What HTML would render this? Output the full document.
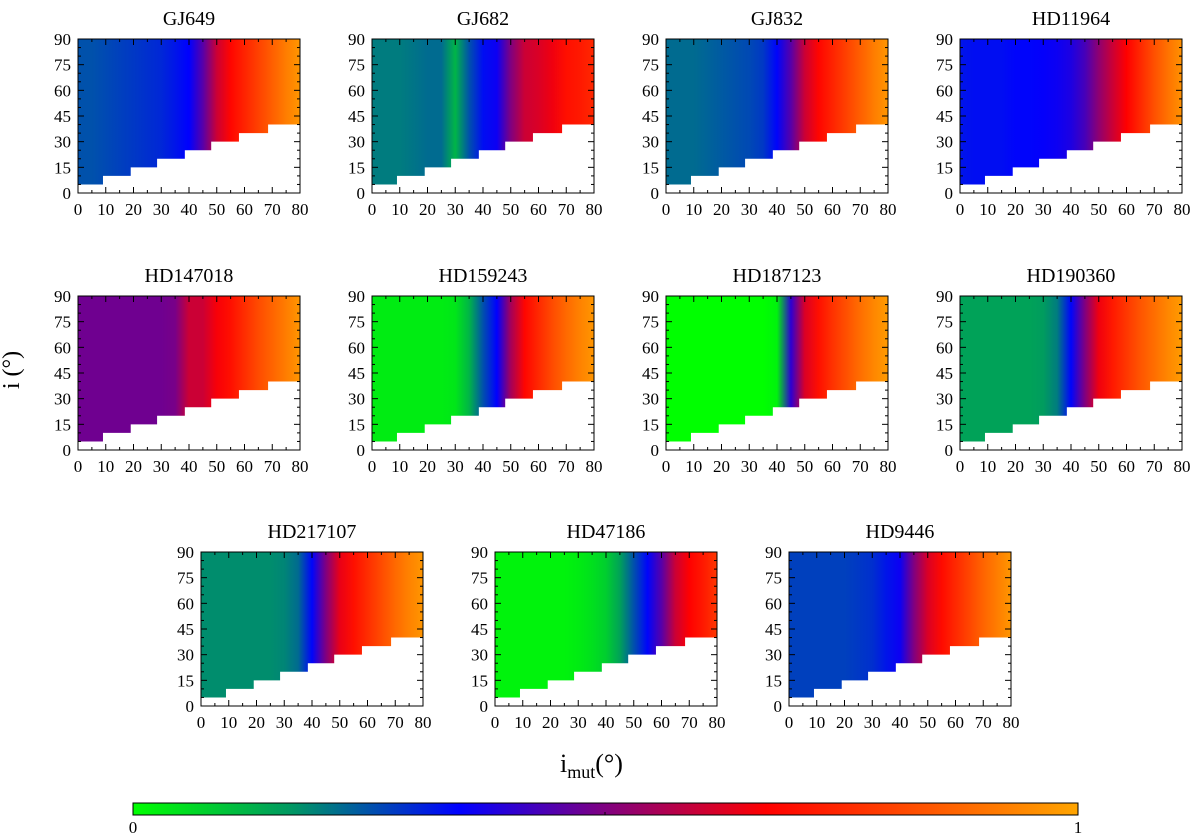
<!DOCTYPE html>
<html><head><meta charset="utf-8"><style>
body{margin:0;background:#fff;}
svg{display:block;font-family:"Liberation Serif",serif;}
</style></head><body>
<svg id="fig" width="1200" height="835" viewBox="0 0 1200 835">
<defs id="defs"></defs>
</svg>
<script>
const panelNames=["GJ649","GJ682","GJ832","HD11964","HD147018","HD159243","HD187123","HD190360","HD217107","HD47186","HD9446"];
const imutGrid=[0,5,10,15,20,25,30,35,40,45,50,55,60,65,70,75,80];
const vGJ649=[0.25,0.25,0.26,0.27,0.28,0.29,0.3,0.32,0.345,0.45,0.6,0.68,0.74,0.8,0.86,0.92,0.97];
const vGJ682=[0.2,0.2,0.2,0.21,0.22,0.22,0.12,0.25,0.33,0.36,0.5,0.6,0.62,0.65,0.7,0.72,0.75];
const vGJ832=[0.22,0.22,0.22,0.23,0.24,0.25,0.26,0.28,0.34,0.45,0.6,0.68,0.74,0.8,0.86,0.92,0.97];
const vHD11964=[0.32,0.33,0.33,0.33,0.34,0.34,0.35,0.36,0.38,0.43,0.52,0.6,0.67,0.75,0.83,0.9,0.96];
const vHD147018=[0.48,0.48,0.48,0.48,0.48,0.48,0.48,0.49,0.6,0.6,0.66,0.7,0.76,0.82,0.87,0.92,0.97];
const vHD159243=[0.03,0.03,0.03,0.03,0.03,0.03,0.04,0.12,0.25,0.345,0.55,0.68,0.75,0.82,0.88,0.93,0.97];
const vHD187123=[0,0,0,0,0,0,0,0,0.02,0.4,0.62,0.7,0.77,0.83,0.89,0.94,0.98];
const vHD190360=[0.15,0.15,0.15,0.15,0.15,0.15,0.16,0.2,0.34,0.5,0.65,0.72,0.78,0.84,0.89,0.94,0.98];
const vHD217107=[0.18,0.18,0.18,0.18,0.18,0.18,0.19,0.22,0.34,0.5,0.64,0.7,0.76,0.82,0.88,0.93,0.97];
const vHD47186=[0.02,0.02,0.02,0.02,0.02,0.02,0.03,0.05,0.08,0.15,0.25,0.34,0.45,0.6,0.67,0.72,0.78];
const vHD9446=[0.27,0.27,0.27,0.27,0.27,0.28,0.29,0.32,0.36,0.5,0.62,0.69,0.75,0.81,0.87,0.92,0.97];
const panelValues=[vGJ649,vGJ682,vGJ832,vHD11964,vHD147018,vHD159243,vHD187123,vHD190360,vHD217107,vHD47186,vHD9446];
const stepEdges=[0,9,19,28.5,38.5,48,58,68.5,80];
const stepFloor=[5,10,15,20,25,30,35,40];
const xTicks=[0,10,20,30,40,50,60,70,80];
const yTicks=[0,15,30,45,60,75,90];

const cmStops=[[0,[0,255,0]],[0.17,[0,150,100]],[0.345,[0,0,255]],[0.5,[128,0,128]],[0.67,[255,0,0]],[1,[255,165,0]]];
function cmap(v){
  v=Math.max(0,Math.min(1,v));
  for(let k=1;k<cmStops.length;k++){
    if(v<=cmStops[k][0]){
      const a=cmStops[k-1],b=cmStops[k];const t=(v-a[0])/(b[0]-a[0]);
      const c=a[1].map((x,j)=>Math.round(x+(b[1][j]-x)*t));
      return `rgb(${c[0]},${c[1]},${c[2]})`;
    }
  }
  return 'rgb(255,165,0)';
}
const NS="http://www.w3.org/2000/svg";
const svg=document.getElementById('fig'),defs=document.getElementById('defs');
function mk(tag,attrs,parent){const e=document.createElementNS(NS,tag);for(const k in attrs)e.setAttribute(k,attrs[k]);(parent||svg).appendChild(e);return e;}

const W=222,H=154;
const pos=[[78,39],[372,39],[666,39],[960,39],[78,296],[372,296],[666,296],[960,296],[201,552],[495,552],[789,552]];

panelNames.forEach((name,p)=>{
  const [L,T]=pos[p];
  const xs=v=>L+v/80*W, ys=v=>T+H-v/90*H;
  const g=mk('g',{});
  
  
  const gid='grad'+p;
  const lg=mk('linearGradient',{id:gid,gradientUnits:'userSpaceOnUse',x1:xs(0),y1:0,x2:xs(80),y2:0},defs);
  panelValues[p].forEach((v,k)=>{mk('stop',{offset:(imutGrid[k]/80).toFixed(4),'stop-color':cmap(v)},lg);});
  const hm=mk('rect',{x:L,y:T,width:W,height:H,fill:`url(#${gid})`},g);
  
  
  let d=`M${xs(0)},${ys(0)}`;
  stepFloor.forEach((f,k)=>{d+=` L${xs(stepEdges[k])},${ys(f)} L${xs(stepEdges[k+1])},${ys(f)}`;});
  d+=` L${xs(80)},${ys(0)} Z`;
  const wp=mk('path',{d:d,fill:'#fff'},g);
  
  
  mk('rect',{x:L,y:T,width:W,height:H,fill:'none',stroke:'#000','stroke-width':1},g);
  for(let v=0;v<=80;v+=5){const x=xs(v),len=v%10===0?6:3;
    mk('line',{x1:x,y1:T+H,x2:x,y2:T+H-len,stroke:'#000'},g);
    mk('line',{x1:x,y1:T,x2:x,y2:T+len,stroke:'#000'},g);}
  for(let v=0;v<=90;v+=5){const y=ys(v),len=v%15===0?6:3;
    mk('line',{x1:L,y1:y,x2:L+len,y2:y,stroke:'#000'},g);
    mk('line',{x1:L+W,y1:y,x2:L+W-len,y2:y,stroke:'#000'},g);}
  xTicks.forEach(v=>{const t=mk('text',{x:xs(v),y:T+H+22,'text-anchor':'middle','font-size':17},g);t.textContent=v;
    
    });
  yTicks.forEach(v=>{const t=mk('text',{x:L-7,y:ys(v)+6,'text-anchor':'end','font-size':17},g);t.textContent=v;
    
    });
  const tt=mk('text',{x:L+W/2,y:T-14,'text-anchor':'middle','font-size':20},g);tt.textContent=name;
  
  
});

const yl=mk('text',{x:0,y:0,transform:'translate(19,370) rotate(-90)','text-anchor':'middle','font-size':24});
yl.textContent='i (°)';


const xl=mk('text',{x:560,y:772,'font-size':26});
xl.innerHTML='i<tspan font-size="18" dy="6">mut</tspan><tspan dy="-6">(°)</tspan>';



const cg=mk('linearGradient',{id:'cbar',x1:0,y1:0,x2:1,y2:0},defs);
cmStops.forEach(s=>mk('stop',{offset:s[0],'stop-color':`rgb(${s[1].join(',')})`},cg));
const cb=mk('rect',{x:133,y:803,width:945,height:12,fill:'url(#cbar)',stroke:'#000','stroke-width':1});


mk('line',{x1:605,y1:815,x2:605,y2:812,stroke:'#000'});
const c0=mk('text',{x:133,y:833,'text-anchor':'middle','font-size':17});c0.textContent='0';


const c1=mk('text',{x:1078,y:833,'text-anchor':'middle','font-size':17});c1.textContent='1';


</script>
</body></html>
